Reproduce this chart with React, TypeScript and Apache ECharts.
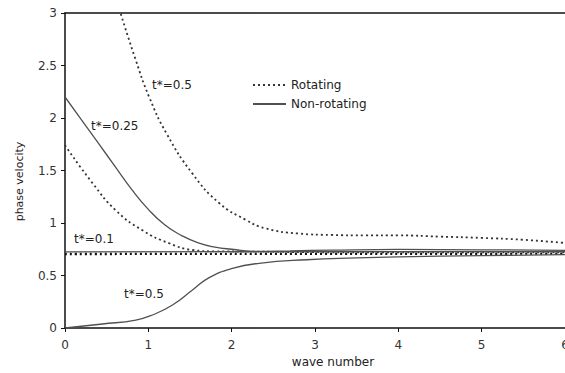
import React, { useEffect, useRef } from "react";
import * as echarts from "echarts";

const xTicks = [0, 1, 2, 3, 4, 5, 6];
const yTicks = [0, 0.5, 1, 1.5, 2, 2.5, 3];

// Rotating (dotted) curves
const rotating05: [number, number][] = [
  [0.67, 2.99], [0.85, 2.55], [1.01, 2.2], [1.22, 1.85], [1.53, 1.47], [1.85, 1.19],
  [2.17, 1.03], [2.4, 0.95], [2.8, 0.9], [3.2, 0.886], [3.6, 0.882], [4.0, 0.882],
  [4.5, 0.87], [5.0, 0.858], [5.5, 0.84], [6.0, 0.81],
];
const rotating025: [number, number][] = [
  [0, 1.74], [0.33, 1.38], [0.61, 1.12], [0.93, 0.93], [1.25, 0.807], [1.53, 0.743],
  [1.8, 0.73], [2.2, 0.728], [3, 0.722], [4, 0.72], [5, 0.72], [6, 0.72],
];
const rotating01: [number, number][] = [[0, 0.705], [3, 0.707], [6, 0.708]];

// Non-rotating (solid) curves
const nonRotating025: [number, number][] = [
  [0, 2.2], [0.2, 1.98], [0.4, 1.76], [0.6, 1.54], [0.8, 1.32], [1.0, 1.13],
  [1.2, 0.98], [1.4, 0.88], [1.6, 0.81], [1.8, 0.77], [2.0, 0.75], [2.3, 0.73],
  [2.7, 0.735], [3.2, 0.742], [4, 0.748], [5, 0.745], [6, 0.74],
];
const nonRotating01: [number, number][] = [[0, 0.725], [3, 0.727], [6, 0.728]];
const nonRotating05: [number, number][] = [
  [0, 0], [0.45, 0.038], [0.85, 0.076], [1.05, 0.124], [1.29, 0.219], [1.53, 0.362],
  [1.73, 0.48], [2.01, 0.568], [2.33, 0.616], [2.9, 0.65], [3.5, 0.668], [4, 0.678],
  [5, 0.69], [6, 0.698],
];

const FONT = "DejaVu Sans, Verdana, sans-serif";

export default function App() {
  const ref = useRef<HTMLDivElement>(null);
  useEffect(() => {
    if (!ref.current) return;
    const chart = echarts.init(ref.current, undefined, { renderer: "svg" });
    const dotted = (name: string, data: [number, number][], width = 1.8, color = "#333") => ({
      type: "line",
      name,
      data,
      smooth: 0.5,
      symbol: "none",
      lineStyle: { color, width, type: [2, 3] },
      itemStyle: { color },
    });
    const solid = (name: string, data: [number, number][]) => ({
      type: "line",
      name,
      data,
      smooth: 0.5,
      symbol: "none",
      lineStyle: { color: "#505050", width: 1.3, type: "solid" },
      itemStyle: { color: "#505050" },
    });
    chart.setOption({
      animation: false,
      textStyle: { fontFamily: FONT },
      grid: { left: 65, right: 0, top: 13, bottom: 45, containLabel: false, outerBoundsMode: "none" },
      legend: {
        show: true,
        left: 247,
        top: 74,
        orient: "vertical",
        itemWidth: 33,
        itemHeight: 14,
        itemGap: 7,
        itemStyle: { opacity: 0 },
        textStyle: { fontFamily: FONT, fontSize: 12, color: "#222" },
        data: ["Rotating", "Non-rotating"],
      },
      xAxis: [
        {
          type: "value",
          min: xTicks[0],
          max: xTicks[xTicks.length - 1],
          interval: 1,
          name: "wave number",
          nameLocation: "middle",
          nameGap: 28,
          nameTextStyle: { fontFamily: FONT, fontSize: 12, color: "#222", padding: [0, 0, 0, 36] },
          axisLine: { show: true, lineStyle: { color: "#111", width: 1.5 } },
          axisTick: { show: true, length: 4, lineStyle: { color: "#111" } },
          axisLabel: { fontFamily: FONT, fontSize: 12, color: "#333", margin: 11 },
          splitLine: { show: false },
        },
        {
          type: "value",
          position: "top",
          min: 0,
          max: 6,
          axisLine: { show: true, lineStyle: { color: "#111", width: 1.5 } },
          axisTick: { show: false },
          axisLabel: { show: false },
          splitLine: { show: false },
        },
      ],
      yAxis: {
        type: "value",
        min: yTicks[0],
        max: yTicks[yTicks.length - 1],
        interval: 0.5,
        name: "phase velocity",
        nameLocation: "middle",
        nameGap: 40,
        nameTextStyle: { fontFamily: FONT, fontSize: 11, color: "#2a1a1a", padding: [0, 22, 0, 0] },
        axisLine: { show: true, lineStyle: { color: "#111", width: 1.5 } },
        axisTick: { show: true, length: 4, lineStyle: { color: "#111" } },
        axisLabel: { fontFamily: FONT, fontSize: 12, color: "#333", margin: 8 },
        splitLine: { show: false },
      },
      graphic: [
        { type: "text", left: 152, top: 79, style: { text: "t*=0.5", font: `12px ${FONT}`, fill: "#222" } },
        { type: "text", left: 91, top: 120, style: { text: "t*=0.25", font: `12px ${FONT}`, fill: "#222" } },
        { type: "text", left: 74, top: 233, style: { text: "t*=0.1", font: `12px ${FONT}`, fill: "#222" } },
        { type: "text", left: 124, top: 288, style: { text: "t*=0.5", font: `12px ${FONT}`, fill: "#222" } },
      ],
      series: [
        dotted("Rotating", rotating05),
        dotted("Rotating", rotating025),
        dotted("Rotating", rotating01, 2.4, "#111"),
        solid("Non-rotating", nonRotating025),
        solid("Non-rotating", nonRotating01),
        solid("Non-rotating", nonRotating05),
      ],
    });
    return () => chart.dispose();
  }, []);
  return <div ref={ref} style={{ width: 565, height: 373, position: "absolute", left: 0, top: 0 }} />;
}
